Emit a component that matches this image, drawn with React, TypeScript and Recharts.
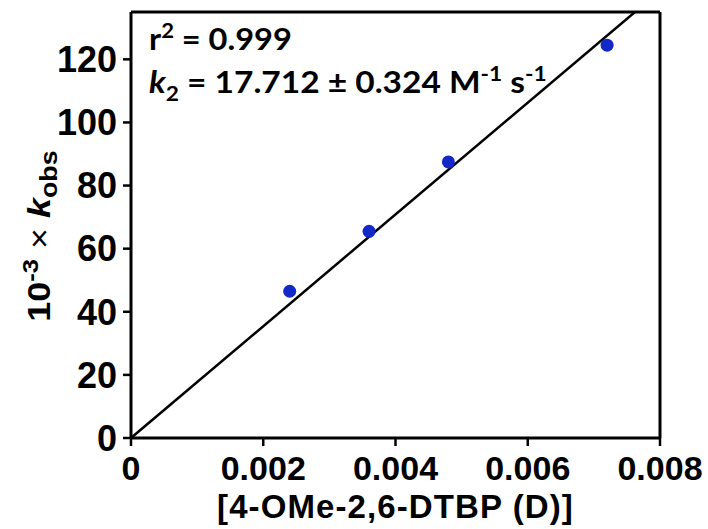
import React from "react";
import {
  ScatterChart,
  Scatter,
  XAxis,
  YAxis,
  ReferenceLine,
  Label,
} from "recharts";

const concentrations = [0.0024, 0.0036, 0.0048, 0.0072];
const kobsValues = [46.5, 65.5, 87.5, 124.5];
const xTicks = [0, 0.002, 0.004, 0.006, 0.008];
const yTicks = [0, 20, 40, 60, 80, 100, 120];
const slopeK2 = 17.712; // M^-1 s^-1, y axis is in units of 10^3
const xMax = 0.008;
const yMax = 135;

const points = concentrations.map((x, i) => ({ x, y: kobsValues[i] }));
const fitLine = [
  { x: 0, y: 0 },
  { x: xMax, y: slopeK2 * 1000 * xMax },
];

const arialBold = {
  fill: "#000",
  fontWeight: 700,
  fontFamily: "Liberation Sans, Arial, sans-serif",
};

const Dot = (props: any) => (
  <circle cx={props.cx} cy={props.cy} r={6.5} fill="#1229c8" />
);

// rotated y title: 10^-3 x k_obs
const YTitle = () => (
  <text
    transform="translate(50 236) rotate(-90) scale(1.12 1)"
    x={0}
    y={0}
    textAnchor="middle"
    style={{ ...arialBold, fontSize: 32 }}
  >
    <tspan>10</tspan>
    <tspan dy={-12} fontSize={23}>-3</tspan>
    <tspan dy={12} fontWeight={400}>{" \u00d7 "}</tspan>
    <tspan fontStyle="italic">k</tspan>
    <tspan dy={7} fontSize={24}>obs</tspan>
  </text>
);

const XTitle = (props: any) => {
  const vb = props.viewBox;
  return (
    <text
      x={vb.x + vb.width / 2}
      y={518}
      textAnchor="middle"
      style={{ ...arialBold, fontSize: 33, letterSpacing: 1.1 }}
    >
      [4-OMe-2,6-DTBP (D)]
    </text>
  );
};

export default function App() {
  return (
    <div style={{ position: "absolute", left: 0, top: 0, width: 708, height: 529, background: "#fff" }}>
      <ScatterChart width={708} height={529} margin={{ top: 12, right: 48, bottom: 0, left: 0 }}>
        <XAxis
          type="number"
          dataKey="x"
          domain={[0, xMax]}
          ticks={xTicks}
          allowDataOverflow
          tickFormatter={(v: number) => (v === 0 ? "0" : v.toFixed(3))}
          height={91}
          axisLine={{ stroke: "#000", strokeWidth: 3 }}
          tickLine={{ stroke: "#000", strokeWidth: 2.5 }}
          tickSize={8}
          tickMargin={10}
          tick={{ ...arialBold, fontSize: 34 }}
          interval={0}
        >
          <Label content={<XTitle />} />
        </XAxis>
        <YAxis
          type="number"
          dataKey="y"
          domain={[0, yMax]}
          ticks={yTicks}
          allowDataOverflow
          width={131}
          axisLine={{ stroke: "#000", strokeWidth: 3 }}
          tickLine={{ stroke: "#000", strokeWidth: 2.5 }}
          tickSize={8}
          tickMargin={6}
          tick={{ ...arialBold, fontSize: 36 }}
          interval={0}
        >
          <Label content={<YTitle />} />
        </YAxis>
        <ReferenceLine y={yMax} stroke="#000" strokeWidth={3} />
        <ReferenceLine x={xMax} stroke="#000" strokeWidth={3} />
        <ReferenceLine
          segment={fitLine}
          stroke="#000"
          strokeWidth={2.5}
          ifOverflow="hidden"
        />
        <Scatter data={points} shape={<Dot />} isAnimationActive={false} />
      </ScatterChart>
      <svg
        width={708}
        height={529}
        style={{ position: "absolute", left: 0, top: 0, pointerEvents: "none" }}
      >
        <g
          style={{ fontFamily: "Lato, Open Sans, sans-serif", fontWeight: 700, fontSize: 31, fill: "#000", whiteSpace: "pre" }}
        >
          <text transform="translate(149 50) scale(1.05 1)" x={0} y={0}>
            <tspan>r</tspan>
            <tspan dy={-12} fontSize={21}>2</tspan>
            <tspan dy={12}> = 0.999</tspan>
          </text>
          <text transform="translate(149 93) scale(1.08 1)" x={0} y={0}>
            <tspan fontStyle="italic">k</tspan>
            <tspan dy={8} fontSize={21}>2</tspan>
            <tspan dy={-8}>{" =  17.712 \u00b1 0.324 M"}</tspan>
            <tspan dy={-12} fontSize={21}>-1</tspan>
            <tspan dy={12}> s</tspan>
            <tspan dy={-12} fontSize={21}>-1</tspan>
          </text>
        </g>
      </svg>
    </div>
  );
}
